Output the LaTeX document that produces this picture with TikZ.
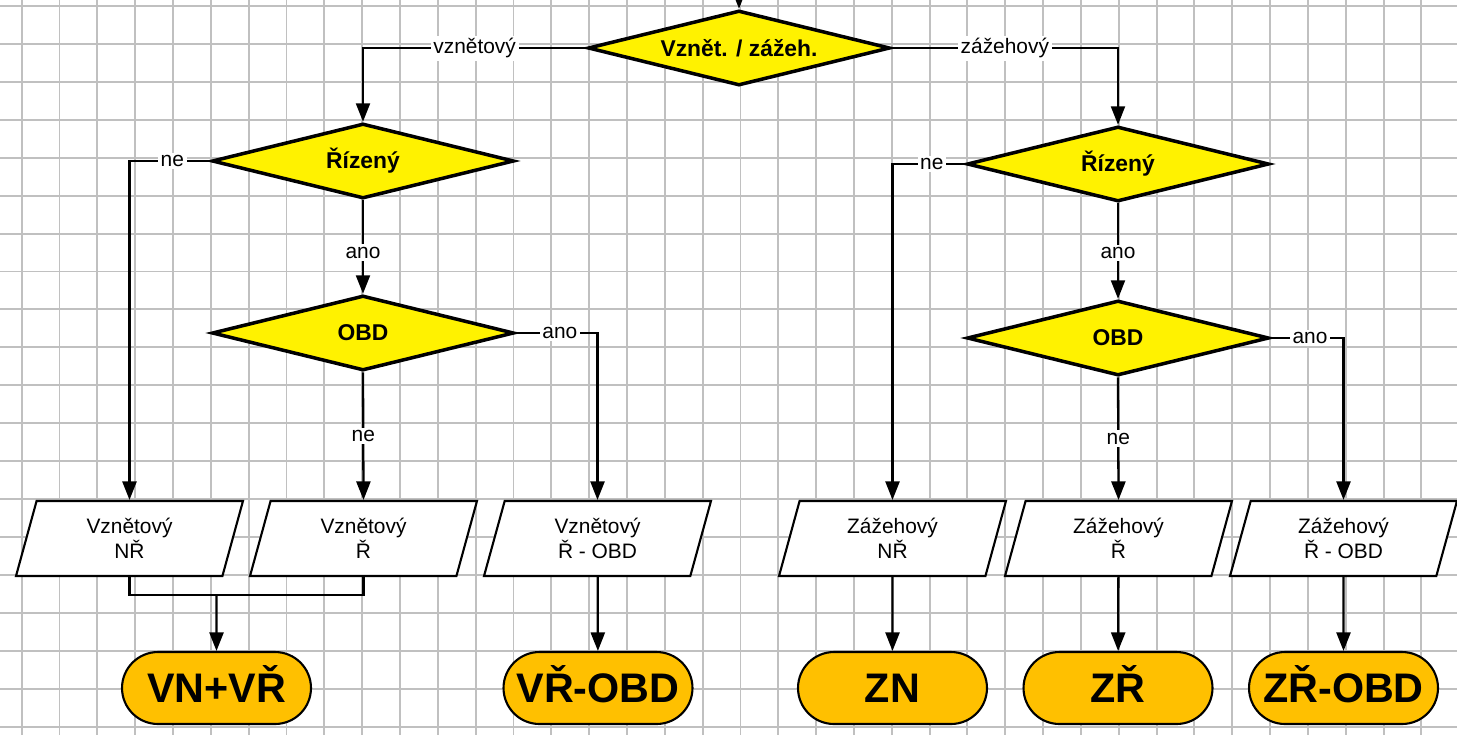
\documentclass[tikz,border=0pt]{standalone}
\usepackage{fontspec}
\setmainfont{Liberation Sans}
\usetikzlibrary{positioning,shapes.geometric,shapes.misc,arrows.meta}
\tikzset{>={Triangle[length=0.37cm,width=0.28cm]}}
\definecolor{gridgray}{RGB}{192,192,192}
\definecolor{termorange}{RGB}{255,192,0}
\tikzset{
  gridline/.style={gridgray,line width=1.1pt},
  conn/.style={line width=1.3pt},
  decision/.style={diamond,shape aspect=4,draw,fill=yellow,line width=2pt,minimum width=6.04cm,
    minimum height=1.5cm,inner sep=0pt,font=\fontsize{13}{15}\selectfont\bfseries},
  io/.style={trapezium,trapezium left angle=63,trapezium right angle=117,
    trapezium stretches body,draw,fill=white,line width=1.2pt,minimum width=4.54cm,
    minimum height=1.5cm,inner sep=0pt,align=center,font=\fontsize{11.9}{14.2}\selectfont},
  terminal/.style={rounded rectangle,draw,fill=termorange,line width=1.2pt,
    minimum width=3.78cm,minimum height=1.44cm,inner sep=0pt,
    text height=16.8pt,text depth=0pt,
    font=\fontsize{23.5}{26}\selectfont\bfseries},
  lbl/.style={fill=white,inner sep=1.5pt,font=\fontsize{11.9}{14.2}\selectfont}
}
\begin{document}
\begin{tikzpicture}[x=0.02cm,y=-0.02cm]
\useasboundingbox (0,0) rectangle (1457,735);
% grid
\foreach \i in {0,...,37}
  \draw[gridline] ({21.7+37.83*\i},0) -- ++(0,735);
\foreach \j in {0,...,19}
  \draw[gridline] (0,{6+37.93*\j}) -- ++(1457,0);
% decisions
\coordinate (entry) at (739,-8);
\node[decision] (start) at (739,48) {Vznět. / zážeh.};
\node[decision] (rizL) at (363,161) {Řízený};
\node[decision] (rizR) at (1118,164) {Řízený};
\node[decision] (obdL) at (363,333) {OBD};
\node[decision] (obdR) at (1118,338) {OBD};
% engine types
\node[io] (vnr) at (129.5,538.5) {Vznětový\\NŘ};
\node[io] (vr) at (363.5,538.5) {Vznětový\\Ř};
\node[io] (vrobd) at (597.5,538.5) {Vznětový\\Ř - OBD};
\node[io] (znr) at (892.5,538.5) {Zážehový\\NŘ};
\node[io] (zr) at (1118.5,538.5) {Zážehový\\Ř};
\node[io] (zrobd) at (1343.5,538.5) {Zážehový\\Ř - OBD};
% results
\node[terminal] (tvnvr) at (216.5,688) {VN+VŘ};
\node[terminal] (tvrobd) at (598,688) {VŘ-OBD};
\node[terminal] (tzn) at (892.5,688) {ZN};
\node[terminal] (tzr) at (1118,688) {ZŘ};
\node[terminal] (tzrobd) at (1343.5,688) {ZŘ-OBD};
% connectors
\draw[conn,->] (entry) -- (start);
\draw[conn,->] (start.west) -| node[lbl,pos=0.25] {vznětový} (rizL.north);
\draw[conn,->] (start.east) -| node[lbl,pos=0.25] {zážehový} (rizR.north);
\draw[conn,->] (rizL.west) -| node[lbl,pos=0.235] {ne} (vnr.north);
\draw[conn,->] (rizL.south) -- node[lbl,pos=0.56] {ano} (obdL.north);
\draw[conn,->] (obdL.south) -- node[lbl,pos=0.5] {ne} (vr.north);
\draw[conn,->] (obdL.east) -| node[lbl,pos=0.27] {ano} (vrobd.north);
\draw[conn,->] (rizR.west) -| node[lbl,pos=0.23] {ne} (znr.north);
\draw[conn,->] (rizR.south) -- node[lbl,pos=0.52] {ano} (obdR.north);
\draw[conn,->] (obdR.south) -- node[lbl,pos=0.5] {ne} (zr.north);
\draw[conn,->] (obdR.east) -| node[lbl,pos=0.27] {ano} (zrobd.north);
\coordinate (join) at (216.5,595);
\draw[conn] (vnr.south) |- (join);
\draw[conn] (vr.south) |- (join);
\draw[conn,->] (join) -- (tvnvr);
\draw[conn,->] (vrobd) -- (tvrobd);
\draw[conn,->] (znr) -- (tzn);
\draw[conn,->] (zr) -- (tzr);
\draw[conn,->] (zrobd) -- (tzrobd);
\end{tikzpicture}
\end{document}
